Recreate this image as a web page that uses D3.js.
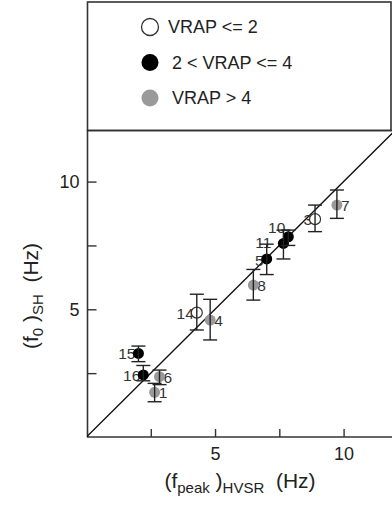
<!DOCTYPE html>
<html><head><meta charset="utf-8">
<script src="https://cdn.jsdelivr.net/npm/d3@7"></script>
<style>body{margin:0;background:#fff}svg{display:block}</style>
</head><body>
<script>
const categories = ["VRAP <= 2", "2 < VRAP <= 4", "VRAP > 4"];
const ids    = [1, 3, 4, 5, 6, 7, 8, 10, 11, 14, 15, 16];
const cls    = [2, 0, 2, 1, 2, 2, 2, 1, 1, 0, 1, 1];
const xVals  = [2.65, 8.89, 4.81, 7.01, 2.84, 9.74, 6.49, 7.85, 7.66, 4.29, 2.02, 2.21];
const yVals  = [1.75, 8.53, 4.58, 6.97, 2.36, 9.08, 5.95, 7.84, 7.58, 4.87, 3.27, 2.43];
const yLo    = [1.38, 8.04, 3.80, 6.36, 2.05, 8.56, 5.36, 7.50, 6.97, 4.19, 2.95, 2.20];
const yHi    = [2.10, 9.08, 5.39, 7.55, 2.62, 9.67, 6.56, 8.10, 8.10, 5.59, 3.56, 2.80];
const labelSide = ["r","l","r","l","r","r","r","l","l","l","l","l"];
const xTicks = [2.5, 5, 7.5, 10];
const yTicks = [2.5, 5, 7.5, 10];
const tickLabels = [5, 10];

const W = 392, H = 511;
const svg = d3.select("body").append("svg").attr("width", W).attr("height", H);
const x = d3.scaleLinear().domain([0, 12]).range([86.5, 395]);
const y = d3.scaleLinear().domain([0, 12]).range([437, 130.5]);
const ink = "#333";
const ff = "Liberation Sans, Arial, sans-serif";
const fills = ["#fff", "#000", "#9a9a9a"];

svg.append("defs").append("clipPath").attr("id","pc").append("rect")
  .attr("x", 87).attr("y", 130).attr("width", 305).attr("height", 307);

// Legend box
svg.append("rect").attr("x", 87.5).attr("y", 2).attr("width", 303.5).attr("height", 128.5)
  .attr("fill", "none").attr("stroke", ink).attr("stroke-width", 1.6);
const lg = svg.append("g");
categories.forEach((c, i) => {
  const cy = 27 + i * 35.5;
  lg.append("circle").attr("cx", 150).attr("cy", cy).attr("r", 8.5)
    .attr("fill", fills[i]).attr("stroke", i === 0 ? ink : "none").attr("stroke-width", 1.3);
  lg.append("text").attr("x", i === 0 ? 168 : 172).attr("y", cy + 6)
    .attr("font-family", ff).attr("font-size", 18)
    .attr("fill", "#222").text(c);
});

// Axes frame
svg.append("line").attr("x1", 87.5).attr("x2", 87.5).attr("y1", 130).attr("y2", 437.5).attr("stroke", ink).attr("stroke-width", 1.6);
svg.append("line").attr("x1", 87.5).attr("x2", 392).attr("y1", 437).attr("y2", 437).attr("stroke", ink).attr("stroke-width", 1.6);
svg.append("line").attr("x1", 87.5).attr("x2", 392).attr("y1", 130.5).attr("y2", 130.5).attr("stroke", ink).attr("stroke-width", 1.6);

const xAxis = d3.axisBottom(x).tickValues(xTicks).tickSize(-8)
  .tickFormat(d => tickLabels.includes(d) ? d : "");
const gx = svg.append("g").attr("transform", "translate(0,437)").call(xAxis);
gx.select(".domain").remove();
gx.selectAll("line").attr("stroke", ink).attr("stroke-width", 1.4);
gx.selectAll("text").attr("font-family", ff)
  .attr("font-size", 18).attr("fill", "#222").attr("dy", 0).attr("y", 23);

const yAxis = d3.axisLeft(y).tickValues(yTicks).tickSize(-9)
  .tickFormat(d => tickLabels.includes(d) ? d : "");
const gy = svg.append("g").attr("transform", "translate(87.5,0)").call(yAxis);
gy.select(".domain").remove();
gy.selectAll("line").attr("stroke", ink).attr("stroke-width", 1.4);
gy.selectAll("text").attr("font-family", ff)
  .attr("font-size", 18).attr("fill", "#222").attr("x", -8).attr("dy", "0.35em");

const plot = svg.append("g").attr("clip-path", "url(#pc)");
plot.append("line").attr("x1", x(0)).attr("y1", y(0)).attr("x2", x(12)).attr("y2", y(12))
  .attr("stroke", "#111").attr("stroke-width", 1.3);

const data = ids.map((id, i) => ({id, c: cls[i], x: xVals[i], y: yVals[i], lo: yLo[i], hi: yHi[i], side: labelSide[i]}));

// label nudges for the crowded cluster
const nudgeX = d => d.id === 11 ? -9 : 0;
const nudgeY = d => d.id === 10 ? -10 : (d.id === 11 ? -1 : (d.id === 5 ? 1 : 0));

plot.selectAll("text.lb").data(data).join("text").attr("class","lb")
  .attr("x", d => (d.side === "r" ? x(d.x) + 4 : x(d.x) - 3) + nudgeX(d))
  .attr("y", d => y(d.y) + 6 + nudgeY(d))
  .attr("text-anchor", d => d.side === "r" ? "start" : "end")
  .attr("font-family", ff).attr("font-size", 15.5)
  .attr("fill", "#333").text(d => d.id);

plot.selectAll("circle.pt").data(data).join("circle").attr("class","pt")
  .attr("cx", d => x(d.x)).attr("cy", d => y(d.y)).attr("r", 5.5)
  .attr("fill", d => fills[d.c]).attr("stroke", d => d.c === 0 ? ink : "none").attr("stroke-width", 1.2);

const eb = plot.selectAll("g.eb").data(data).join("g").attr("class","eb")
  .attr("stroke", "#222").attr("stroke-width", 1.4);
eb.append("line").attr("x1", d => x(d.x)).attr("x2", d => x(d.x)).attr("y1", d => y(d.lo)).attr("y2", d => y(d.hi));
eb.append("line").attr("x1", d => x(d.x) - 7).attr("x2", d => x(d.x) + 7).attr("y1", d => y(d.lo)).attr("y2", d => y(d.lo));
eb.append("line").attr("x1", d => x(d.x) - 7).attr("x2", d => x(d.x) + 7).attr("y1", d => y(d.hi)).attr("y2", d => y(d.hi));

const xt = svg.append("text").attr("x", 240).attr("y", 488).attr("text-anchor", "middle")
  .attr("font-family", ff).attr("font-size", 21).attr("fill", "#222");
xt.append("tspan").text("(f");
xt.append("tspan").attr("font-size", 15).attr("dy", 5).text("peak");
xt.append("tspan").attr("dy", -5).text(" )");
xt.append("tspan").attr("font-size", 15).attr("dy", 5).text("HVSR");
xt.append("tspan").attr("dy", -5).attr("xml:space","preserve").text("  (Hz)");

const yt = svg.append("text").attr("transform", "translate(38,296) rotate(-90)").attr("text-anchor", "middle")
  .attr("font-family", ff).attr("font-size", 21).attr("fill", "#222");
yt.append("tspan").text("(f");
yt.append("tspan").attr("font-size", 15).attr("dy", 5).text("0");
yt.append("tspan").attr("dy", -5).text(" )");
yt.append("tspan").attr("font-size", 15).attr("dy", 5).text("SH");
yt.append("tspan").attr("dy", -5).attr("xml:space","preserve").text("  (Hz)");
</script>
</body></html>
